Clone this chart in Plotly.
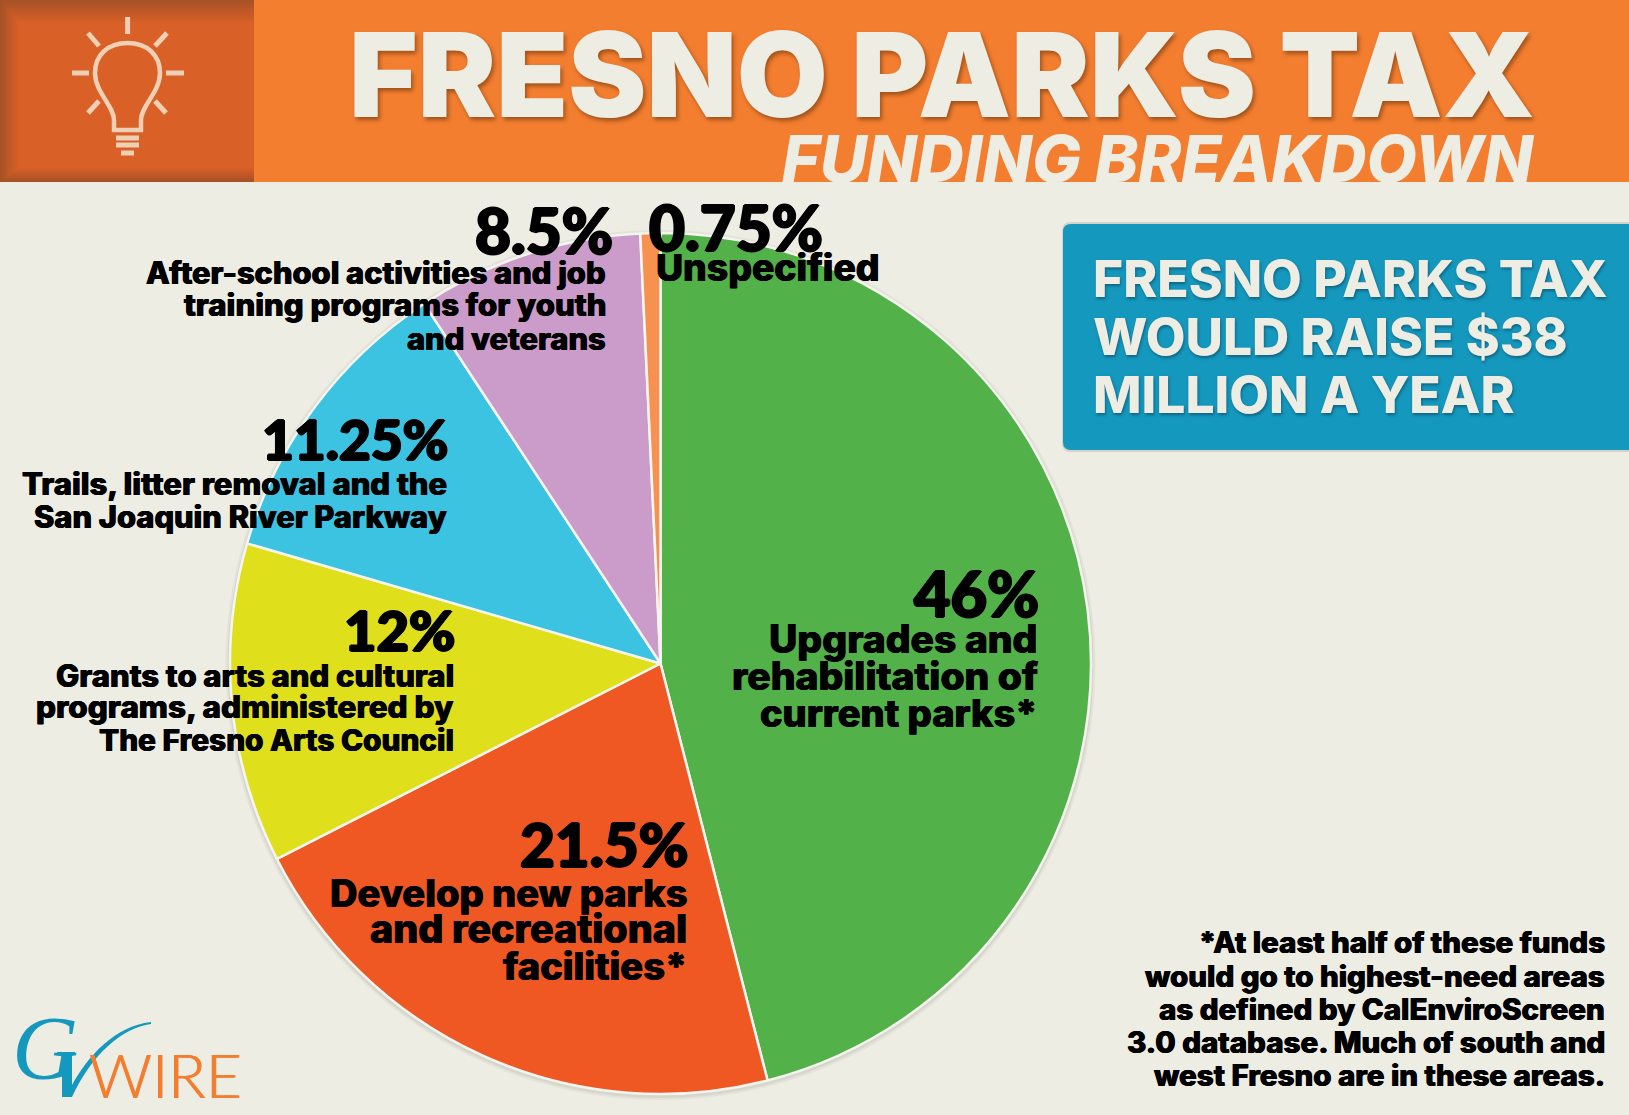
"""Fresno Parks Tax funding breakdown - pie chart infographic"""

import plotly.graph_objects as go

W, H = 1629, 1115

# Pie data
categories = ['Upgrades and rehabilitation of current parks',
              'Develop new parks and recreational facilities',
              'Grants to arts and cultural programs',
              'Trails, litter removal and the San Joaquin River Parkway',
              'After-school activities and job training programs',
              'Unspecified']
values = [46, 21.5, 12, 11.25, 8.5, 0.75]
colors = ['#52B148', '#EF5823', '#DFDF1C', '#3BC3E1', '#CB9BC9', '#F6914F']

# Text blocks: (text, right or left x, centre y, size)
pct_labels = [('46%', 1041, 592, 63, 'right'),
              ('21.5%', 690, 844, 60, 'right'),
              ('12%', 457, 629, 56, 'right'),
              ('11.25%', 450, 439, 55, 'right'),
              ('8.5%', 615, 230, 62, 'right'),
              ('0.75%', 647, 227, 62, 'left')]
desc_labels = [('Upgrades and', 1040, 638, 39, 'right'),
               ('rehabilitation of', 1040, 675, 39, 'right'),
               ('current parks*', 1040, 713, 38, 'right'),
               ('Develop new parks', 689, 893, 38, 'right'),
               ('and recreational', 689, 929, 39.4, 'right'),
               ('facilities*', 689, 966, 38, 'right'),
               ('Grants to arts and cultural', 456, 675, 31, 'right'),
               ('programs, administered by', 456, 707, 31.4, 'right'),
               ('The Fresno Arts Council', 456, 740, 29.8, 'right'),
               ('Trails, litter removal and the', 449, 483, 31, 'right'),
               ('San Joaquin River Parkway', 449, 516, 30.8, 'right'),
               ('After-school activities and job', 608, 272, 30.8, 'right'),
               ('training programs for youth', 608, 305, 31.1, 'right'),
               ('and veterans', 608, 338, 30.8, 'right'),
               ('Unspecified', 654, 267, 37.3, 'left')]
note_lines = ['*At least half of these funds',
              'would go to highest-need areas',
              'as defined by CalEnviroScreen',
              '3.0 database. Much of south and',
              'west Fresno are in these areas.']
note_y = [942, 976, 1009, 1042, 1075]
box_lines = ['FRESNO PARKS TAX', 'WOULD RAISE $38', 'MILLION A YEAR']
box_y = [278, 336, 394]

BG = '#EDEDE3'
ORANGE = '#F47E30'
BLUE = '#1598BE'
BULB = '#EFD0B5'
FONT = 'Inter'

# text-shadow used as faux bold where the installed weight is too light
HEAVY = '1.2px 0 0 #000,-1.2px 0 0 #000,0 1.2px 0 #000,0 -1.2px 0 #000'
THICK = '0.5px 0 0 #000,-0.5px 0 0 #000'
WIRE_THICK = '0.6px 0 0 %s,-0.6px 0 0 %s' % (ORANGE, ORANGE)

fig = go.Figure()

fig.add_trace(go.Pie(labels=categories, values=values, sort=False, direction='clockwise',
                     rotation=0, textinfo='none', hoverinfo='label+percent', showlegend=False,
                     marker=dict(colors=colors, line=dict(color='#F5F5EF', width=2.5)),
                     domain=dict(x=[230 / W, 1091 / W], y=[1 - 1094 / H, 1 - 233 / H])))

# Title goes through a clipped subplot so the subtitle is cut by the header edge
fig.add_trace(go.Scatter(x=[1535], y=[88], text=['FRESNO PARKS TAX'], mode='text',
                         textposition='middle left', xaxis='x2', yaxis='y2',
                         hoverinfo='skip', showlegend=False, cliponaxis=True,
                         textfont=dict(family=FONT, size=117.5, color=BG, weight=900,
                                       shadow='2px 3px 4px rgba(90,45,10,0.55)')))
fig.add_trace(go.Scatter(x=[1533], y=[166], text=['FUNDING BREAKDOWN'], mode='text',
                         textposition='middle left', xaxis='x2', yaxis='y2',
                         hoverinfo='skip', showlegend=False, cliponaxis=True,
                         textfont=dict(family=FONT, size=65, color=BG, weight=800, style='italic')))

shapes = []


def rect(x0, y0, x1, y1, fill):
    shapes.append(dict(type='rect', xref='x', yref='y', x0=x0, y0=y0, x1=x1, y1=y1,
                       fillcolor=fill, line_width=0, layer='below'))


def line(x0, y0, x1, y1, width=5):
    shapes.append(dict(type='path', xref='x', yref='y', layer='below',
                       path=f'M{x0},{y0} L{x1},{y1}',
                       line=dict(color=BULB, width=width)))


# header
rect(0, 0, W, 182, ORANGE)

# dark square with soft inner shadow on top, left and bottom
steps = 12
for i in range(steps):
    k = i / (steps - 1)
    c = 'rgb(%d,%d,%d)' % (168 + (217 - 168) * k, 82 + (96 - 82) * k, 40 - (40 - 38) * k)
    rect(i * 1.6, i * 2.0, 254, 182 - i * 1.2, c)

# bulb
for seg in [(127.6, 17, 127.6, 34), (72, 73, 89, 73), (166, 73, 184, 73),
            (88, 33, 99, 46), (167, 33, 155, 46), (88, 113, 99, 101), (166, 113, 155, 101),
            (116, 138, 139, 138), (116, 145, 139, 145), (121, 153, 134, 153)]:
    line(*seg)
shapes.append(dict(type='path', xref='x', yref='y', layer='below',
                   path='M114,130 L114,120 C114,106 95,92 95,73 C95,55 108,43 127.6,43 '
                        'C147,43 160,55 160,73 C160,92 141,106 141,120 L141,130 Z',
                   line=dict(color=BULB, width=4.5)))

# pie shadow
for r, op in [(435, 0.05), (433, 0.08)]:
    shapes.append(dict(type='circle', xref='x', yref='y', layer='below',
                       x0=660.5 - r, x1=660.5 + r, y0=664 - r + 1, y1=664 + r + 1,
                       fillcolor='rgba(60,60,50,%s)' % op, line_width=0))

# blue box, shadow first
shapes.append(dict(type='path', xref='x', yref='y', layer='below',
                   path='M1062,231 Q1062,222 1071,222 L1629,222 L1629,452 L1071,452 Q1062,452 1062,443 Z',
                   fillcolor='rgba(60,60,50,0.14)', line_width=0))
shapes.append(dict(type='path', xref='x', yref='y', layer='below',
                   path='M1063,232 Q1063,224 1071,224 L1629,224 L1629,450 L1071,450 Q1063,450 1063,442 Z',
                   fillcolor=BLUE, line_width=0))

# logo V + swoosh
shapes.append(dict(type='path', xref='x', yref='y', layer='below',
                   path='M57,1052 L75,1052 L75,1054 L72,1054 L72,1085 C88,1056 115,1026 151,1022 '
                        'L151,1024 C122,1028 92,1054 72,1097 L62,1097 L62,1054 L57,1054 Z',
                   fillcolor=BLUE, line_width=0))

annotations = []


def note(text, x, y, size, anchor='right', color='black', weight=800, family=FONT, shadow=None):
    font = dict(family=family, size=size, color=color, weight=weight)
    if shadow:
        font['shadow'] = shadow
    annotations.append(dict(text=text, x=x, y=y, xref='x', yref='y', showarrow=False,
                            xanchor=anchor, yanchor='middle', font=font))


for t, x, y, s, a in pct_labels:
    note(t, x, y, s, a, weight=900, family='Lato', shadow=HEAVY)
for t, x, y, s, a in desc_labels:
    note(t, x, y, s, a, shadow=THICK)
for t, y in zip(note_lines, note_y):
    note(t, 1607, y, 29.5, shadow=THICK)
for t, y in zip(box_lines, box_y):
    note(t, 1091, y, 51.5, 'left', color=BG, shadow='1px 2px 3px rgba(10,50,70,0.5)')

# logo text
note('G', 10, 1048, 92, 'left', color=BLUE, weight=400, family='Liberation Serif')
annotations[-1]['font']['style'] = 'italic'
note('WIRE', 87, 1074, 62, 'left', color=ORANGE, weight=300, family='Lato', shadow=WIRE_THICK)

fig.update_layout(
    width=W, height=H, margin=dict(l=0, r=0, t=0, b=0),
    paper_bgcolor=BG, plot_bgcolor='rgba(0,0,0,0)',
    xaxis=dict(range=[0, W], domain=[0, 1], visible=False, fixedrange=True),
    yaxis=dict(range=[H, 0], domain=[0, 1], visible=False, fixedrange=True),
    xaxis2=dict(range=[0, W], domain=[0, 1], visible=False, anchor='y2', fixedrange=True),
    yaxis2=dict(range=[182, 0], domain=[1 - 182 / H, 1], visible=False, anchor='x2', fixedrange=True),
    shapes=shapes, annotations=annotations,
)

fig.write_html('out.html', include_plotlyjs=True, config=dict(displayModeBar=False),
               post_script="document.body.style.margin='0';document.body.style.background='%s';" % BG)
